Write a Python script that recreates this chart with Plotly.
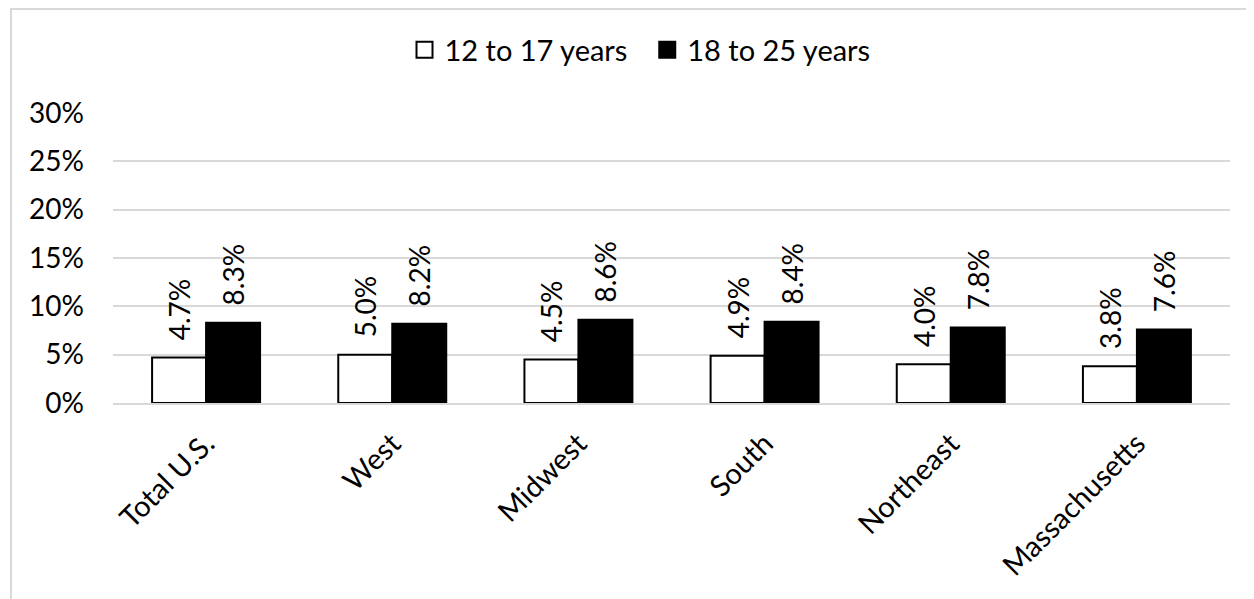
import plotly.graph_objects as go

categories = ["Total U.S.", "West", "Midwest", "South", "Northeast", "Massachusetts"]
age_12_17 = [4.7, 5.0, 4.5, 4.9, 4.0, 3.8]
age_18_25 = [8.3, 8.2, 8.6, 8.4, 7.8, 7.6]
series_names = ["12 to 17 years", "18 to 25 years"]
y_ticks = [0, 5, 10, 15, 20, 25, 30]

FONT = "Lato"
FS = 28
FS_CAT = 29

PAD = "\u00a0\u00a0"  # small gap between bar top and its rotated label

fig = go.Figure()
fig.add_trace(go.Bar(
    x=categories, y=age_12_17, name=series_names[0], showlegend=False,
    marker=dict(color="white", line=dict(color="black", width=2)),
    text=[f"{PAD}{v:.1f}%" for v in age_12_17], textposition="outside",
    textangle=-90, cliponaxis=False, constraintext="none",
    textfont=dict(family=FONT, size=FS, color="black"),
))
fig.add_trace(go.Bar(
    x=categories, y=age_18_25, name=series_names[1], showlegend=False,
    marker=dict(color="black", line=dict(color="black", width=2)),
    text=[f"{PAD}{v:.1f}%" for v in age_18_25], textposition="outside",
    textangle=-90, cliponaxis=False, constraintext="none",
    textfont=dict(family=FONT, size=FS, color="black"),
))
# legend entries with larger square markers
fig.add_trace(go.Scatter(
    x=[None], y=[None], mode="markers", name=series_names[0] + "\u00a0\u00a0",
    marker=dict(symbol="square", size=19, color="white",
                line=dict(color="black", width=2)),
))
fig.add_trace(go.Scatter(
    x=[None], y=[None], mode="markers", name=series_names[1],
    marker=dict(symbol="square", size=19, color="black",
                line=dict(color="black", width=2)),
))

OFF = 8  # page body offset
W, H = 1254, 599
L = 113 - OFF
T = 113 - OFF
R = W - (1230 - OFF)
B = H - (403 - OFF)
pw = W - L - R
ph = H - T - B

def px_x(x):
    return (x - OFF - L) / pw

def px_y(y):
    return (H - B - (y - OFF)) / ph

fig.update_layout(
    width=W, height=H,
    margin=dict(l=L, r=R, t=T, b=B, autoexpand=False),
    paper_bgcolor="white", plot_bgcolor="white",
    barmode="group", bargap=0.42, bargroupgap=0,
    font=dict(family=FONT, size=FS, color="black"),
    showlegend=True,
    legend=dict(
        orientation="h", x=px_x(640), xanchor="center",
        y=px_y(50), yanchor="middle",
        font=dict(family=FONT, size=FS_CAT), itemwidth=30,
        traceorder="normal",
    ),
    xaxis=dict(
        tickangle=-45, showgrid=False, showline=True,
        linecolor="#d9d9d9", linewidth=2, ticks="",
        tickfont=dict(family=FONT, size=FS_CAT),
        ticklabelstandoff=10,
    ),
    yaxis=dict(
        range=[0, 30], tickvals=y_ticks,
        ticktext=[f"{v}%" for v in y_ticks],
        showgrid=True, gridcolor="#d9d9d9", gridwidth=2,
        zeroline=False, showline=False, ticks="",
        tickfont=dict(family=FONT, size=FS),
        ticklabelstandoff=28,
    ),
    shapes=[dict(
        type="rect", xref="paper", yref="paper",
        x0=px_x(11), x1=px_x(1270),
        y0=px_y(620), y1=px_y(9),
        line=dict(color="#d9d9d9", width=2), fillcolor="rgba(0,0,0,0)",
        layer="below",
    )],
)

fig.write_html("out.html")
